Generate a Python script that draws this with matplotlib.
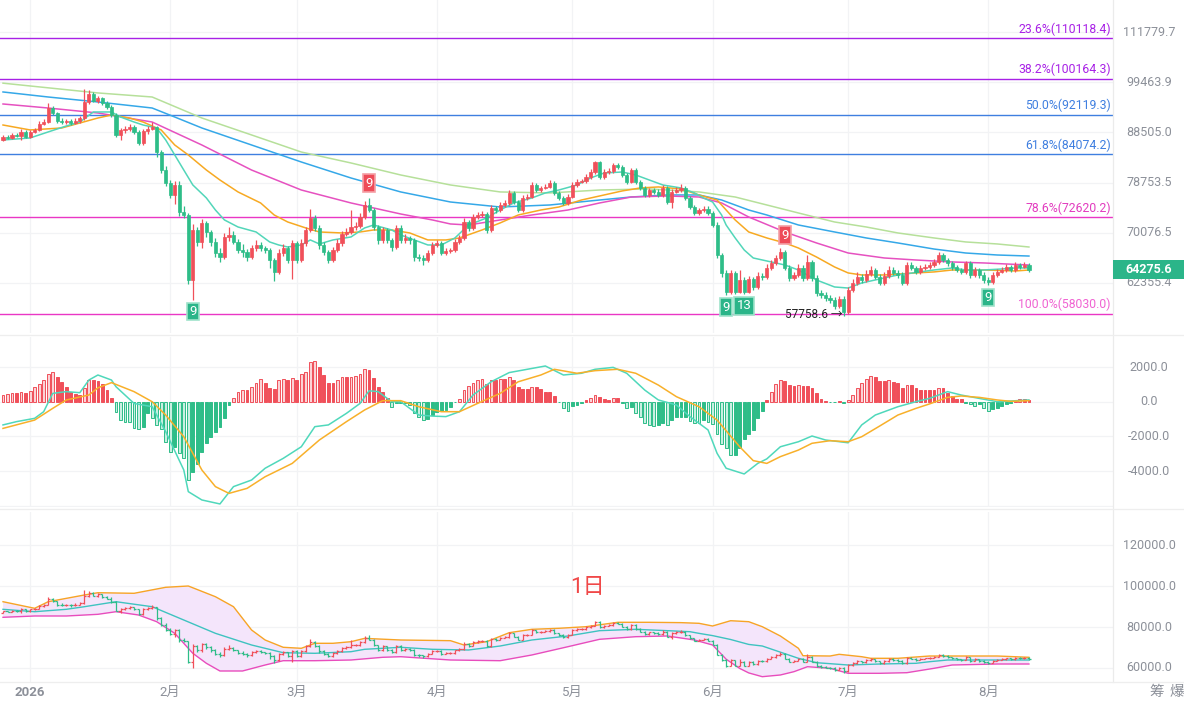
import matplotlib
matplotlib.use('Agg')
import matplotlib.pyplot as plt
import matplotlib.dates as mdates
import matplotlib.transforms as mtrans
from matplotlib.patches import Rectangle, Polygon
from matplotlib.lines import Line2D
import numpy as np
import pandas as pd

plt.rcParams['font.family'] = ['Roboto', 'Noto Sans CJK SC', 'DejaVu Sans']

# ---------------- data ----------------
start_date = '2025-12-26'
first_open_k = 86.9
close_k = [
    87.6, 87.4, 88.0, 87.8, 88.6, 87.6, 88.6, 89.0, 90.3, 90.7,
    93.7, 92.6, 90.9, 90.7, 90.9, 90.5, 90.9, 91.5, 95.0, 96.8,
    95.2, 95.9, 94.8, 93.9, 92.2, 88.0, 89.0, 89.2, 89.6, 88.6,
    86.4, 88.8, 89.2, 89.6, 84.6, 81.1, 78.7, 76.5, 78.3, 73.6,
    73.0, 62.8, 70.5, 68.6, 71.7, 70.2, 68.6, 66.9, 66.2, 69.4,
    69.7, 68.6, 67.3, 67.0, 66.2, 67.6, 68.1, 67.6, 67.3, 65.8,
    64.0, 66.9, 67.6, 65.8, 68.4, 65.8, 68.4, 70.5, 72.5, 70.9,
    68.1, 67.0, 65.8, 67.3, 68.4, 69.9, 70.2, 71.0, 71.2, 72.7,
    74.8, 73.9, 71.0, 68.9, 70.5, 68.9, 67.8, 70.9, 68.9, 69.2,
    68.9, 66.2, 66.1, 65.8, 66.9, 68.1, 68.4, 66.9, 67.2, 67.3,
    68.6, 69.2, 71.9, 70.9, 72.7, 73.0, 73.2, 70.5, 74.2, 73.9,
    74.8, 75.1, 76.9, 75.3, 73.9, 76.0, 76.2, 78.3, 77.4, 77.8,
    78.0, 78.7, 76.9, 76.0, 75.1, 76.2, 78.3, 78.9, 79.0, 79.8,
    80.7, 82.6, 79.8, 80.7, 80.9, 82.0, 81.7, 80.2, 78.9, 81.1,
    78.9, 77.8, 76.5, 77.4, 77.1, 76.5, 77.8, 75.3, 77.1, 77.4,
    77.8, 76.0, 74.4, 73.4, 73.9, 74.1, 73.4, 71.4, 66.5, 63.8,
    61.1, 63.8, 61.1, 62.8, 61.1, 62.9, 61.8, 63.4, 63.2, 64.6,
    65.3, 66.1, 67.0, 64.6, 63.1, 63.5, 64.6, 63.1, 65.5, 63.1,
    60.9, 60.6, 60.2, 59.9, 59.1, 60.1, 58.3, 61.3, 62.4, 63.2,
    62.8, 63.7, 64.3, 63.2, 62.4, 63.4, 64.3, 63.8, 63.5, 62.4,
    65.0, 64.6, 64.0, 64.6, 64.7, 65.0, 65.5, 66.5, 65.8, 65.3,
    64.7, 64.3, 64.0, 65.3, 63.5, 64.3, 63.5, 62.8, 62.5, 63.5,
    64.0, 64.3, 64.7, 64.3, 65.0, 64.7, 65.0, 64.2756]
high_k = [
    87.9, 87.9, 88.4, 88.3, 89.2, 88.9, 89.0, 89.5, 90.9, 91.3,
    94.8, 94.0, 92.9, 91.6, 91.3, 91.4, 91.5, 92.0, 97.9, 97.6,
    97.2, 96.4, 96.2, 95.3, 94.4, 92.6, 89.5, 89.9, 90.2, 90.0,
    89.0, 89.3, 89.9, 90.7, 89.9, 85.0, 81.8, 79.3, 79.0, 79.0,
    74.6, 73.4, 71.6, 71.0, 72.3, 72.0, 70.6, 69.2, 67.7, 70.0,
    71.0, 70.3, 69.0, 68.2, 67.5, 68.1, 68.9, 68.6, 68.0, 67.7,
    66.1, 67.5, 68.2, 68.0, 68.9, 68.7, 69.0, 71.1, 74.1, 73.0,
    71.3, 68.6, 67.4, 67.8, 69.0, 70.4, 70.8, 73.9, 71.9, 73.3,
    75.4, 76.0, 74.3, 71.4, 71.0, 70.9, 69.3, 71.4, 71.3, 69.8,
    69.6, 69.2, 66.7, 66.5, 67.3, 68.6, 68.9, 68.7, 67.6, 67.7,
    69.0, 69.7, 72.5, 72.2, 73.2, 73.6, 73.7, 73.5, 74.7, 74.6,
    75.2, 75.6, 77.4, 77.3, 75.7, 76.5, 76.7, 78.8, 78.7, 78.2,
    78.5, 79.2, 79.1, 77.3, 76.4, 76.7, 78.8, 79.4, 79.5, 80.3,
    81.2, 82.9, 82.9, 81.2, 81.4, 82.5, 82.4, 82.0, 80.6, 81.5,
    81.4, 79.3, 78.2, 77.8, 77.8, 77.5, 78.3, 78.1, 77.6, 77.9,
    78.5, 78.1, 76.3, 74.8, 74.3, 74.5, 74.5, 73.8, 71.8, 66.9,
    64.2, 64.3, 64.1, 64.3, 63.2, 63.4, 63.3, 63.9, 63.8, 65.1,
    65.8, 66.6, 67.6, 67.3, 65.0, 64.0, 65.1, 65.0, 66.6, 65.8,
    63.5, 61.4, 61.0, 60.6, 60.3, 60.5, 60.5, 61.8, 62.9, 63.9,
    63.6, 64.2, 64.8, 64.6, 63.6, 63.9, 64.8, 64.7, 64.2, 63.9,
    65.5, 65.4, 64.9, 65.0, 65.1, 65.4, 66.0, 67.0, 66.8, 66.1,
    65.6, 65.0, 64.6, 65.7, 65.6, 64.7, 64.6, 63.9, 63.2, 63.9,
    64.4, 64.7, 65.1, 65.0, 65.4, 65.3, 65.4, 65.3]
low_k = [
    86.7, 87.1, 87.2, 87.5, 87.0, 87.3, 87.4, 88.3, 88.8, 90.0,
    90.5, 92.1, 90.4, 90.2, 90.3, 90.0, 90.2, 90.5, 91.2, 94.6,
    94.9, 94.8, 94.3, 93.5, 91.8, 87.6, 86.9, 88.4, 88.7, 88.2,
    85.9, 86.0, 88.2, 88.9, 83.5, 80.6, 78.2, 75.9, 75.0, 72.9,
    72.6, 62.2, 60.0, 67.9, 67.6, 69.4, 68.0, 66.2, 65.5, 65.9,
    68.8, 68.2, 66.8, 66.3, 65.6, 65.9, 67.1, 67.2, 66.8, 64.6,
    62.6, 63.6, 66.4, 65.3, 63.0, 65.3, 65.5, 68.0, 70.2, 70.4,
    67.5, 66.5, 65.3, 65.5, 67.0, 68.0, 69.5, 69.8, 70.6, 70.9,
    72.4, 73.5, 70.5, 68.3, 68.5, 68.4, 67.2, 67.5, 68.4, 68.5,
    68.3, 65.7, 65.6, 65.0, 65.5, 66.6, 67.8, 66.5, 66.6, 66.9,
    67.0, 68.3, 68.9, 70.4, 70.6, 72.3, 72.7, 70.1, 70.2, 73.3,
    73.5, 74.4, 74.8, 74.9, 73.5, 73.6, 75.6, 75.9, 77.0, 77.1,
    77.5, 77.7, 76.5, 75.6, 74.7, 74.8, 75.9, 78.0, 78.6, 78.7,
    79.5, 80.4, 79.4, 79.5, 80.4, 80.6, 81.3, 79.8, 78.5, 78.6,
    78.5, 77.4, 76.1, 76.2, 76.7, 76.1, 76.2, 74.9, 74.2, 76.8,
    77.1, 75.6, 74.0, 73.0, 73.1, 73.6, 73.0, 71.0, 66.1, 63.3,
    60.6, 60.8, 60.8, 60.9, 60.8, 60.9, 61.4, 61.5, 62.8, 62.9,
    64.3, 65.0, 65.8, 64.2, 62.7, 62.8, 63.2, 62.7, 62.8, 62.7,
    60.5, 60.2, 59.8, 59.5, 58.7, 58.8, 57.7586, 58.0, 61.0, 62.1,
    62.4, 62.5, 63.4, 62.9, 62.0, 62.1, 63.1, 63.5, 63.1, 62.0,
    62.1, 64.2, 63.6, 63.7, 64.3, 64.4, 64.7, 65.2, 65.4, 64.9,
    64.3, 63.9, 63.6, 63.7, 63.1, 63.2, 63.1, 62.4, 62.0, 62.2,
    63.2, 63.8, 64.0, 64.0, 64.0, 64.4, 64.5, 64.0]

# moving averages (sampled at candle index, value in thousands)
ma1_idx = [0, 6, 10, 14, 17, 20, 24, 26, 29, 31, 34, 36, 38, 40, 42, 45, 47, 49, 52, 56, 59, 61, 63, 66, 68, 70, 73, 77, 80, 82, 86, 88, 91, 94, 97, 100, 103, 107, 110, 113, 117, 120, 123, 127, 130, 133, 137, 140, 143, 146, 150, 153, 155, 157, 159, 160, 162, 164, 166, 170, 173, 176, 180, 184, 187, 190, 195, 198, 206, 210, 213, 217, 221, 224, 227]
ma1_k = [86.96, 87.37, 88.60, 89.83, 90.67, 92.81, 92.81, 91.73, 90.67, 90.04, 89.42, 86.96, 83.98, 81.09, 78.32, 75.99, 73.89, 72.20, 71.03, 70.21, 68.60, 68.12, 67.80, 68.12, 68.92, 68.28, 68.92, 69.40, 70.87, 71.36, 70.54, 69.72, 68.92, 68.12, 68.12, 69.24, 71.36, 72.53, 73.89, 75.11, 75.99, 76.88, 77.41, 78.32, 79.60, 80.53, 80.72, 80.16, 79.23, 78.32, 77.78, 76.88, 75.99, 75.28, 73.04, 71.36, 69.24, 67.33, 66.09, 65.48, 65.02, 64.27, 62.79, 61.78, 61.63, 62.36, 63.09, 63.53, 64.27, 64.57, 64.27, 64.27, 64.42, 64.57, 64.57]
ma2_idx = [0, 6, 13, 17, 21, 24, 28, 31, 35, 38, 41, 45, 48, 52, 57, 60, 63, 67, 70, 75, 79, 82, 86, 90, 94, 98, 101, 106, 110, 114, 119, 123, 128, 132, 137, 141, 145, 150, 154, 158, 162, 165, 169, 173, 176, 180, 184, 187, 190, 195, 202, 206, 210, 217, 224, 227]
ma2_k = [90.04, 89.01, 89.42, 90.46, 91.52, 92.16, 91.52, 90.67, 89.01, 85.95, 83.98, 81.09, 79.23, 77.06, 75.11, 73.04, 71.86, 70.87, 70.21, 70.05, 70.21, 70.54, 70.54, 70.05, 68.92, 68.92, 69.24, 70.54, 71.70, 73.04, 73.89, 74.41, 75.63, 76.34, 77.24, 77.78, 77.96, 77.60, 76.52, 75.63, 72.20, 70.21, 69.24, 68.44, 67.64, 66.24, 64.72, 63.83, 63.53, 63.53, 63.83, 63.98, 64.27, 64.27, 64.12, 64.27]
ma3_idx = [0, 10, 21, 33, 44, 55, 66, 77, 88, 95, 99, 103, 110, 117, 125, 132, 139, 147, 154, 159, 165, 173, 180, 187, 195, 202, 210, 217, 227]
ma3_k = [94.55, 93.67, 92.59, 90.67, 85.95, 81.09, 77.41, 75.11, 73.21, 72.20, 71.53, 71.36, 72.20, 73.04, 73.89, 75.11, 76.16, 76.34, 76.16, 75.11, 72.70, 70.21, 68.44, 66.86, 66.09, 65.78, 65.48, 65.33, 65.02]
ma4_idx = [0, 10, 21, 33, 38, 44, 55, 66, 77, 88, 99, 110, 121, 132, 139, 147, 154, 159, 165, 169, 176, 184, 191, 198, 206, 213, 220, 227]
ma4_k = [97.23, 96.10, 94.99, 93.67, 91.73, 89.42, 85.95, 82.62, 79.60, 77.06, 75.28, 74.41, 74.76, 75.63, 76.16, 76.52, 76.52, 75.63, 73.89, 73.04, 71.36, 70.21, 69.24, 68.44, 67.48, 66.86, 66.55, 66.39]
ma5_idx = [0, 21, 33, 44, 55, 66, 77, 88, 99, 110, 121, 132, 143, 154, 162, 169, 176, 184, 191, 198, 206, 213, 220, 227]
ma5_k = [99.24, 97.01, 96.10, 91.52, 87.98, 84.56, 82.43, 80.16, 78.32, 77.06, 76.88, 77.41, 77.60, 77.06, 76.16, 74.76, 73.38, 71.86, 71.03, 70.05, 69.24, 68.60, 68.28, 67.80]

fib_labels = ['23.6%', '38.2%', '50.0%', '61.8%', '78.6%', '100.0%']
fib_values = [110118.4, 100164.3, 92119.3, 84074.2, 72620.2, 58030.0]
price_ticks = [62355.4, 70076.5, 78753.5, 88505.0, 99463.9, 111779.7]
last_price = 64275.6

macd_hist = [
    385, 440, 520, 480, 580, 520, 620, 865, 1020, 1250,
    1600, 1700, 1440, 1120, 830, 540, 440, 385, 810, 1250,
    1250, 1190, 1020, 675, 230, -577, -1055, -1150, -1190, -1540,
    -1600, -1480, -670, -960, -1340, -1600, -2310, -2880, -2600, -2980,
    -3270, -4520, -4040, -3600, -2880, -2400, -2020, -1730, -1480, -920,
    -190, 210, 540, 675, 675, 865, 1100, 1290, 1060, 770,
    710, 1250, 1290, 1250, 1350, 1250, 1600, 1700, 2310, 2350,
    2020, 1540, 1060, 1060, 1250, 1400, 1400, 1440, 1480, 1600,
    1870, 1830, 1350, 830, 540, 230, -290, -100, -60, -100,
    -190, -670, -900, -1050, -1020, -770, -580, -520, -480, -290,
    -40, 130, 670, 900, 1100, 1250, 1290, 1020, 1250, 1250,
    1290, 1290, 1440, 1250, 830, 730, 710, 830, 830, 710,
    540, 540, 330, -20, -380, -520, -250, -190, -100, 100,
    190, 385, 290, 150, 100, 190, 190, -60, -380, -290,
    -630, -900, -1210, -1340, -1400, -1340, -1250, -1340, -1060, -900,
    -900, -900, -1100, -1210, -1250, -1060, -1150, -1290, -1870, -2440,
    -2700, -3080, -3080, -2700, -2180, -1870, -1630, -960, -520, 100,
    580, 1020, 1250, 1210, 960, 900, 960, 900, 900, 770,
    520, 150, 40, -20, -40, 20, -60, 100, 385, 770,
    1100, 1310, 1480, 1400, 1190, 1190, 1250, 1120, 1100, 770,
    960, 960, 770, 675, 675, 675, 675, 770, 770, 520,
    330, 130, 130, -60, -150, -230, -130, -380, -520, -420,
    -350, -230, -130, -60, 60, 130, 130, 100]
dif_idx = [0, 3, 7, 9, 11, 14, 17, 19, 21, 24, 25, 29, 33, 36, 40, 41, 44, 48, 51, 55, 58, 62, 66, 69, 72, 76, 79, 81, 83, 86, 88, 92, 95, 98, 101, 104, 108, 112, 116, 120, 124, 128, 131, 135, 138, 142, 145, 149, 152, 156, 158, 160, 164, 167, 169, 172, 176, 179, 182, 187, 190, 193, 198, 202, 205, 209, 212, 216, 220, 223, 227]
dif_val = [-1340, -1150, -960, -577, 480, 580, 520, 1250, 1540, 1250, 865, -100, -290, -1730, -3940, -5190, -5670, -5900, -4900, -4520, -3840, -3270, -2600, -1440, -1340, -670, -100, 630, 580, 0, 0, -770, -830, -860, -577, 385, 1150, 1680, 1870, 2060, 1540, 1640, 1870, 1980, 1640, 670, 100, -190, -860, -1630, -2980, -3840, -4170, -3560, -3300, -2600, -2310, -1980, -2210, -2370, -1340, -770, -290, 0, 190, 580, 385, 190, 0, 40, 100]
dea_idx = [0, 7, 11, 14, 19, 21, 24, 29, 33, 36, 40, 44, 47, 50, 54, 58, 64, 70, 76, 80, 84, 88, 92, 97, 101, 105, 110, 114, 119, 122, 127, 131, 136, 140, 145, 149, 154, 158, 163, 166, 169, 172, 176, 179, 183, 187, 190, 194, 198, 202, 205, 209, 212, 216, 220, 223, 227]
dea_val = [-1540, -1060, -385, 100, 385, 800, 1100, 580, 0, -770, -2020, -3940, -4900, -5290, -5000, -4330, -3560, -2210, -1150, -480, 60, 60, -290, -577, -577, -100, 480, 1150, 1540, 1870, 1640, 1790, 1870, 1640, 960, 290, -290, -1060, -2600, -3400, -3560, -3170, -2790, -2400, -2250, -2310, -2020, -1400, -770, -385, -130, 250, 330, 250, 100, 20, 60]
macd_ticks = [2000.0, 0.0, -2000.0, -4000.0]
macd_grid = [2000.0, 0.0, -2000.0, -4000.0, -6000.0]

boll_up_idx = [0, 7, 10, 18, 21, 29, 36, 41, 47, 51, 55, 58, 62, 66, 69, 73, 77, 80, 88, 99, 102, 107, 112, 117, 123, 129, 136, 143, 150, 154, 157, 161, 165, 168, 172, 176, 177, 183, 185, 190, 192, 198, 205, 213, 220, 227]
boll_up_k = [92.34, 89.12, 92.34, 95.61, 96.73, 96.44, 99.37, 100.0, 94.78, 89.90, 78.54, 73.66, 70.10, 69.61, 72.05, 72.05, 72.83, 74.46, 73.66, 73.33, 71.22, 72.83, 77.22, 78.87, 79.37, 80.15, 82.29, 82.29, 82.13, 81.80, 80.49, 83.07, 82.59, 80.15, 75.61, 69.61, 66.00, 65.85, 66.68, 65.51, 64.73, 64.73, 65.85, 65.85, 65.85, 65.22]
boll_mid_idx = [0, 7, 14, 18, 25, 33, 40, 47, 55, 62, 69, 77, 80, 88, 95, 103, 110, 117, 125, 132, 140, 147, 152, 154, 157, 161, 165, 168, 176, 180, 187, 194, 202, 205, 209, 216, 227]
boll_mid_k = [88.63, 87.46, 88.63, 89.90, 92.34, 89.90, 83.41, 76.92, 71.22, 67.46, 67.17, 67.95, 69.12, 70.10, 69.12, 68.78, 70.73, 73.66, 75.61, 78.21, 78.87, 78.21, 77.71, 76.90, 75.80, 73.90, 71.50, 70.73, 64.73, 62.59, 61.46, 61.95, 62.29, 63.07, 63.90, 63.90, 63.90]
boll_low_idx = [0, 7, 14, 21, 25, 30, 34, 38, 42, 45, 48, 53, 58, 62, 69, 77, 84, 88, 99, 110, 117, 125, 132, 140, 147, 153, 157, 160, 163, 165, 168, 172, 175, 178, 183, 187, 194, 200, 206, 210, 220, 227]
boll_low_k = [84.73, 85.37, 85.37, 86.19, 87.46, 85.85, 82.59, 76.92, 67.17, 62.29, 58.54, 58.54, 61.46, 63.56, 63.56, 63.90, 65.22, 65.51, 63.90, 63.56, 66.34, 70.39, 74.00, 75.27, 75.61, 73.66, 71.22, 64.30, 59.80, 57.60, 55.76, 56.59, 58.20, 60.63, 59.85, 57.41, 57.41, 57.71, 59.85, 61.46, 61.95, 61.95]
boll_ticks = [60000.0, 80000.0, 100000.0, 120000.0]

month_dates = ['2026-01-01', '2026-02-01', '2026-03-01', '2026-04-01', '2026-05-01', '2026-06-01', '2026-07-01', '2026-08-01']
month_labels = ['2026', '2月', '3月', '4月', '5月', '6月', '7月', '8月']

badge_idx = [42, 81, 160, 164, 173, 218]
badge_text = ['9', '9', '9', '13', '9', '9']
badge_kind = ['low', 'high', 'low', 'low', 'high', 'low']
low_mark_idx = 186
low_mark_text = '57758.6 →'
period_text = '1日'

assert len(close_k) == len(high_k) == len(low_k) == len(macd_hist), (len(close_k), len(high_k), len(low_k), len(macd_hist))

# ---------------- colours ----------------
UP = '#f0505a'
DOWN = '#2ebd88'
UP_LIGHT = '#fbd3d6'
DOWN_LIGHT = '#c8efe1'
GRID = '#f2f3f5'
TXT = '#8c9099'
MA_COLS = ['#52d6b9', '#f7a922', '#e651c0', '#35a8e8', '#b6e09a']
FIB_COLS = ['#a821e6', '#a821e6', '#3f7fe0', '#3f7fe0', '#ea37c5', '#ea37c5']
FIB_TXT = ['#a821e6', '#a821e6', '#3f7fe0', '#3f7fe0', '#e23cbf', '#f064d2']

# ---------------- derived ----------------
close = np.array(close_k) * 1000
high = np.array(high_k) * 1000
low = np.array(low_k) * 1000
opn = np.concatenate([[first_open_k * 1000], close[:-1]])
dates = pd.date_range(start_date, periods=len(close), freq='D')
xs = mdates.date2num(dates)
up = close >= opn
cols = np.where(up, UP, DOWN)

W, H = 1184, 709
RIGHT = 1113
fig = plt.figure(figsize=(W / 100, H / 100), dpi=100)
fig.patch.set_facecolor('white')


def add_ax(top, bottom):
    ax = fig.add_axes([0, 1 - bottom / H, RIGHT / W, (bottom - top) / H])
    ax.set_axis_off()
    ax.set_xlim(xs[0] - 0.664, xs[0] + 245.6)
    return ax


ax1 = add_ax(0, 333)
ax2 = add_ax(337, 507)
ax3 = add_ax(512, 682)

ax1.set_yscale('log')
ax1.set_ylim(55510, 120416)
ax2.set_ylim(-6076, 3733)
ax3.set_ylim(53170, 136100)

month_x = mdates.date2num(pd.to_datetime(month_dates))
for ax in (ax1, ax2, ax3):
    for mx in month_x:
        ax.axvline(mx, color=GRID, lw=0.9, zorder=0)


def right_labels(ax, values, fmt='{:.1f}'):
    tr = mtrans.blended_transform_factory(fig.transFigure, ax.transData)
    for v in values:
        ax.text(1149 / W, v, fmt.format(v), transform=tr, ha='center', va='center',
                fontsize=9, color=TXT, clip_on=False)


# ---- top panel ----
for v in price_ticks:
    ax1.axhline(v, color=GRID, lw=0.9, zorder=0)
right_labels(ax1, price_ticks)

blend1 = mtrans.blended_transform_factory(ax1.transAxes, ax1.transData)
for lab, v, c, tc in zip(fib_labels, fib_values, FIB_COLS, FIB_TXT):
    ax1.axhline(v, color=c, lw=1.0, zorder=1)
    ax1.annotate(f'{lab}({v:.1f})', xy=(0.998, v), xycoords=blend1, xytext=(0, 2),
                 textcoords='offset points', ha='right', va='bottom', fontsize=8.8, color=tc)

for idx, vals, c in zip([ma5_idx, ma4_idx, ma3_idx, ma2_idx, ma1_idx],
                        [ma5_k, ma4_k, ma3_k, ma2_k, ma1_k],
                        [MA_COLS[4], MA_COLS[3], MA_COLS[2], MA_COLS[1], MA_COLS[0]]):
    ax1.plot(xs[idx], np.array(vals) * 1000, color=c, lw=1.1, zorder=3)

ax1.vlines(xs, low, high, colors=cols, lw=0.9, zorder=4)
ax1.bar(xs, np.abs(close - opn), bottom=np.minimum(opn, close), width=0.7,
        color=cols, edgecolor=cols, linewidth=0.5, zorder=5)

for i, t, k in zip(badge_idx, badge_text, badge_kind):
    if k == 'low':
        ax1.annotate(t, xy=(xs[i], low[i]), xytext=(0, -4), textcoords='offset points',
                     ha='center', va='top', fontsize=9.5, color='white',
                     bbox=dict(boxstyle='square,pad=0.18', fc='#2bb589', ec='#9fe3cb', lw=1.2), zorder=7)
    else:
        ax1.annotate(t, xy=(xs[i], high[i]), xytext=(0, 6), textcoords='offset points',
                     ha='center', va='bottom', fontsize=9.5, color='white',
                     bbox=dict(boxstyle='square,pad=0.18', fc='#ee4b58', ec='#f5a0a6', lw=1.2), zorder=7)

ax1.annotate(low_mark_text, xy=(xs[low_mark_idx], low[low_mark_idx]), xytext=(-1, 1),
             textcoords='offset points', ha='right', va='center', fontsize=8.5, color='#222222', zorder=7)

# current price tag
fig.canvas.draw()
y_disp = ax1.transData.transform((xs[-1], last_price))[1]
fig.add_artist(Rectangle((RIGHT / W, (y_disp - 9.5) / H), (W - RIGHT) / W, 19 / H,
                         transform=fig.transFigure, fc='#2bb589', ec='none', zorder=10))
fig.text(1149 / W, y_disp / H, f'{last_price:.1f}', ha='center', va='center',
         fontsize=9, color='white', fontweight='bold', zorder=11)

# ---- MACD panel ----
for v in macd_grid:
    ax2.axhline(v, color=GRID, lw=0.9, zorder=0)
right_labels(ax2, macd_ticks)
hist = np.array(macd_hist, dtype=float)
for i, h in enumerate(hist):
    grow = i == 0 or abs(h) > abs(hist[i - 1])
    c = UP if h >= 0 else DOWN
    fc = (UP_LIGHT if h >= 0 else DOWN_LIGHT) if grow else c
    ax2.bar(xs[i], h, width=0.62, color=fc, edgecolor=c, linewidth=0.7, zorder=2)
ax2.plot(xs[dif_idx], dif_val, color='#4fd8bb', lw=1.1, zorder=3)
ax2.plot(xs[dea_idx], dea_val, color='#f8b02a', lw=1.1, zorder=3)

# ---- Bollinger panel ----
for v in boll_ticks:
    ax3.axhline(v, color=GRID, lw=0.9, zorder=0)
right_labels(ax3, boll_ticks)
upper = list(zip(xs[boll_up_idx], np.array(boll_up_k) * 1000))
lower = list(zip(xs[boll_low_idx], np.array(boll_low_k) * 1000))
ax3.add_patch(Polygon(upper + lower[::-1], closed=True, fc='#f4e5fb', ec='none', zorder=1))
ax3.plot(xs[boll_up_idx], np.array(boll_up_k) * 1000, color='#f7a426', lw=1.0, zorder=3)
ax3.plot(xs[boll_mid_idx], np.array(boll_mid_k) * 1000, color='#3ec3c0', lw=1.0, zorder=3)
ax3.plot(xs[boll_low_idx], np.array(boll_low_k) * 1000, color='#e84dbd', lw=1.0, zorder=3)
ax3.vlines(xs, low, high, colors=cols, lw=0.9, zorder=4)
ax3.hlines(opn, xs - 0.45, xs, colors=cols, lw=0.9, zorder=4)
ax3.hlines(close, xs, xs + 0.45, colors=cols, lw=0.9, zorder=4)
ax3.text(0.528, 0.553, period_text, transform=ax3.transAxes, ha='center', va='center',
         fontsize=16, color='#f04848', zorder=6)

# x labels
trx = mtrans.blended_transform_factory(ax3.transData, fig.transFigure)
for mx, lab in zip(month_x, month_labels):
    fig.text(mx, 1 - 692 / H, lab, transform=trx, ha='center', va='center', fontsize=9.5,
             color=TXT, fontweight='bold' if lab == '2026' else 'normal')
fig.text(1157 / W, 1 - 692 / H, '筹', ha='center', va='center', fontsize=10.5, color=TXT)
fig.text(1177 / W, 1 - 692 / H, '爆', ha='center', va='center', fontsize=10.5, color=TXT)

# separators
fig.add_artist(Line2D([RIGHT / W, RIGHT / W], [1 - 682 / H, 1], color='#ebebeb', lw=0.9))
for yy in (335, 509, 682):
    fig.add_artist(Line2D([0, 1], [1 - yy / H, 1 - yy / H], color='#eeeeee', lw=0.9))

fig.savefig('out.png', dpi=100)
